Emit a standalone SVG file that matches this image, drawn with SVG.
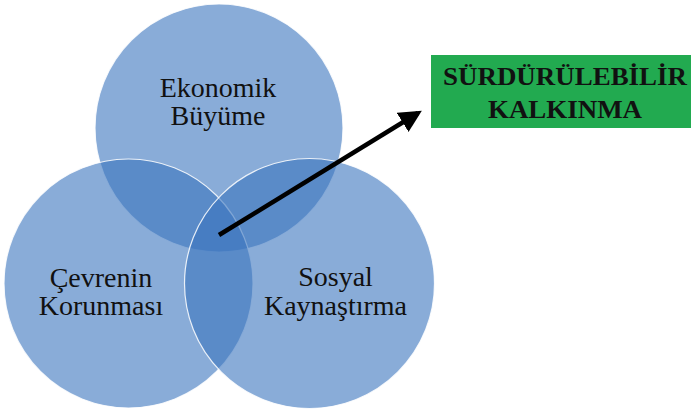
<svg xmlns="http://www.w3.org/2000/svg" width="691" height="415" viewBox="0 0 691 415">
<style>
.c{fill:#3A75BE;fill-opacity:0.6;stroke:#ffffff;stroke-width:1.2;stroke-opacity:0.85}
.t{font-family:"Liberation Serif","Times New Roman",serif;font-size:28px;fill:#111;text-anchor:middle}
.g{font-family:"Liberation Serif","Times New Roman",serif;font-size:25px;font-weight:bold;fill:#111}
</style>
<defs>
<marker id="ah" markerWidth="5" markerHeight="5" refX="4" refY="2.5" orient="auto" markerUnits="strokeWidth">
<path d="M0,0 L5,2.5 L0,5 Z" fill="#000"/>
</marker>
</defs>
<rect width="691" height="415" fill="#fff"/>
<g id="ekonomik">
<circle class="c" cx="219" cy="128" r="124"/>
<text class="t" x="218" y="97">Ekonomik</text>
<text class="t" x="218" y="125">Büyüme</text>
</g>
<g id="cevre">
<circle class="c" cx="128.5" cy="283.5" r="124.5"/>
<text class="t" x="101" y="287">Çevrenin</text>
<text class="t" x="101" y="315">Korunması</text>
</g>
<g id="sosyal">
<circle class="c" cx="309.5" cy="283.5" r="125"/>
<text class="t" x="335.5" y="286">Sosyal</text>
<text class="t" x="335.5" y="315">Kaynaştırma</text>
</g>
<g id="surdurulebilir">
<rect x="431" y="55" width="260" height="73" fill="#22AA50"/>
<text class="g" x="443" y="85" textLength="244" lengthAdjust="spacingAndGlyphs">SÜRDÜRÜLEBİLİR</text>
<text class="g" x="488" y="118" textLength="154" lengthAdjust="spacingAndGlyphs">KALKINMA</text>
</g>
<g id="connectors">
<line x1="219" y1="235" x2="418" y2="113" stroke="#000" stroke-width="4.5" marker-end="url(#ah)"/>
</g>
</svg>
